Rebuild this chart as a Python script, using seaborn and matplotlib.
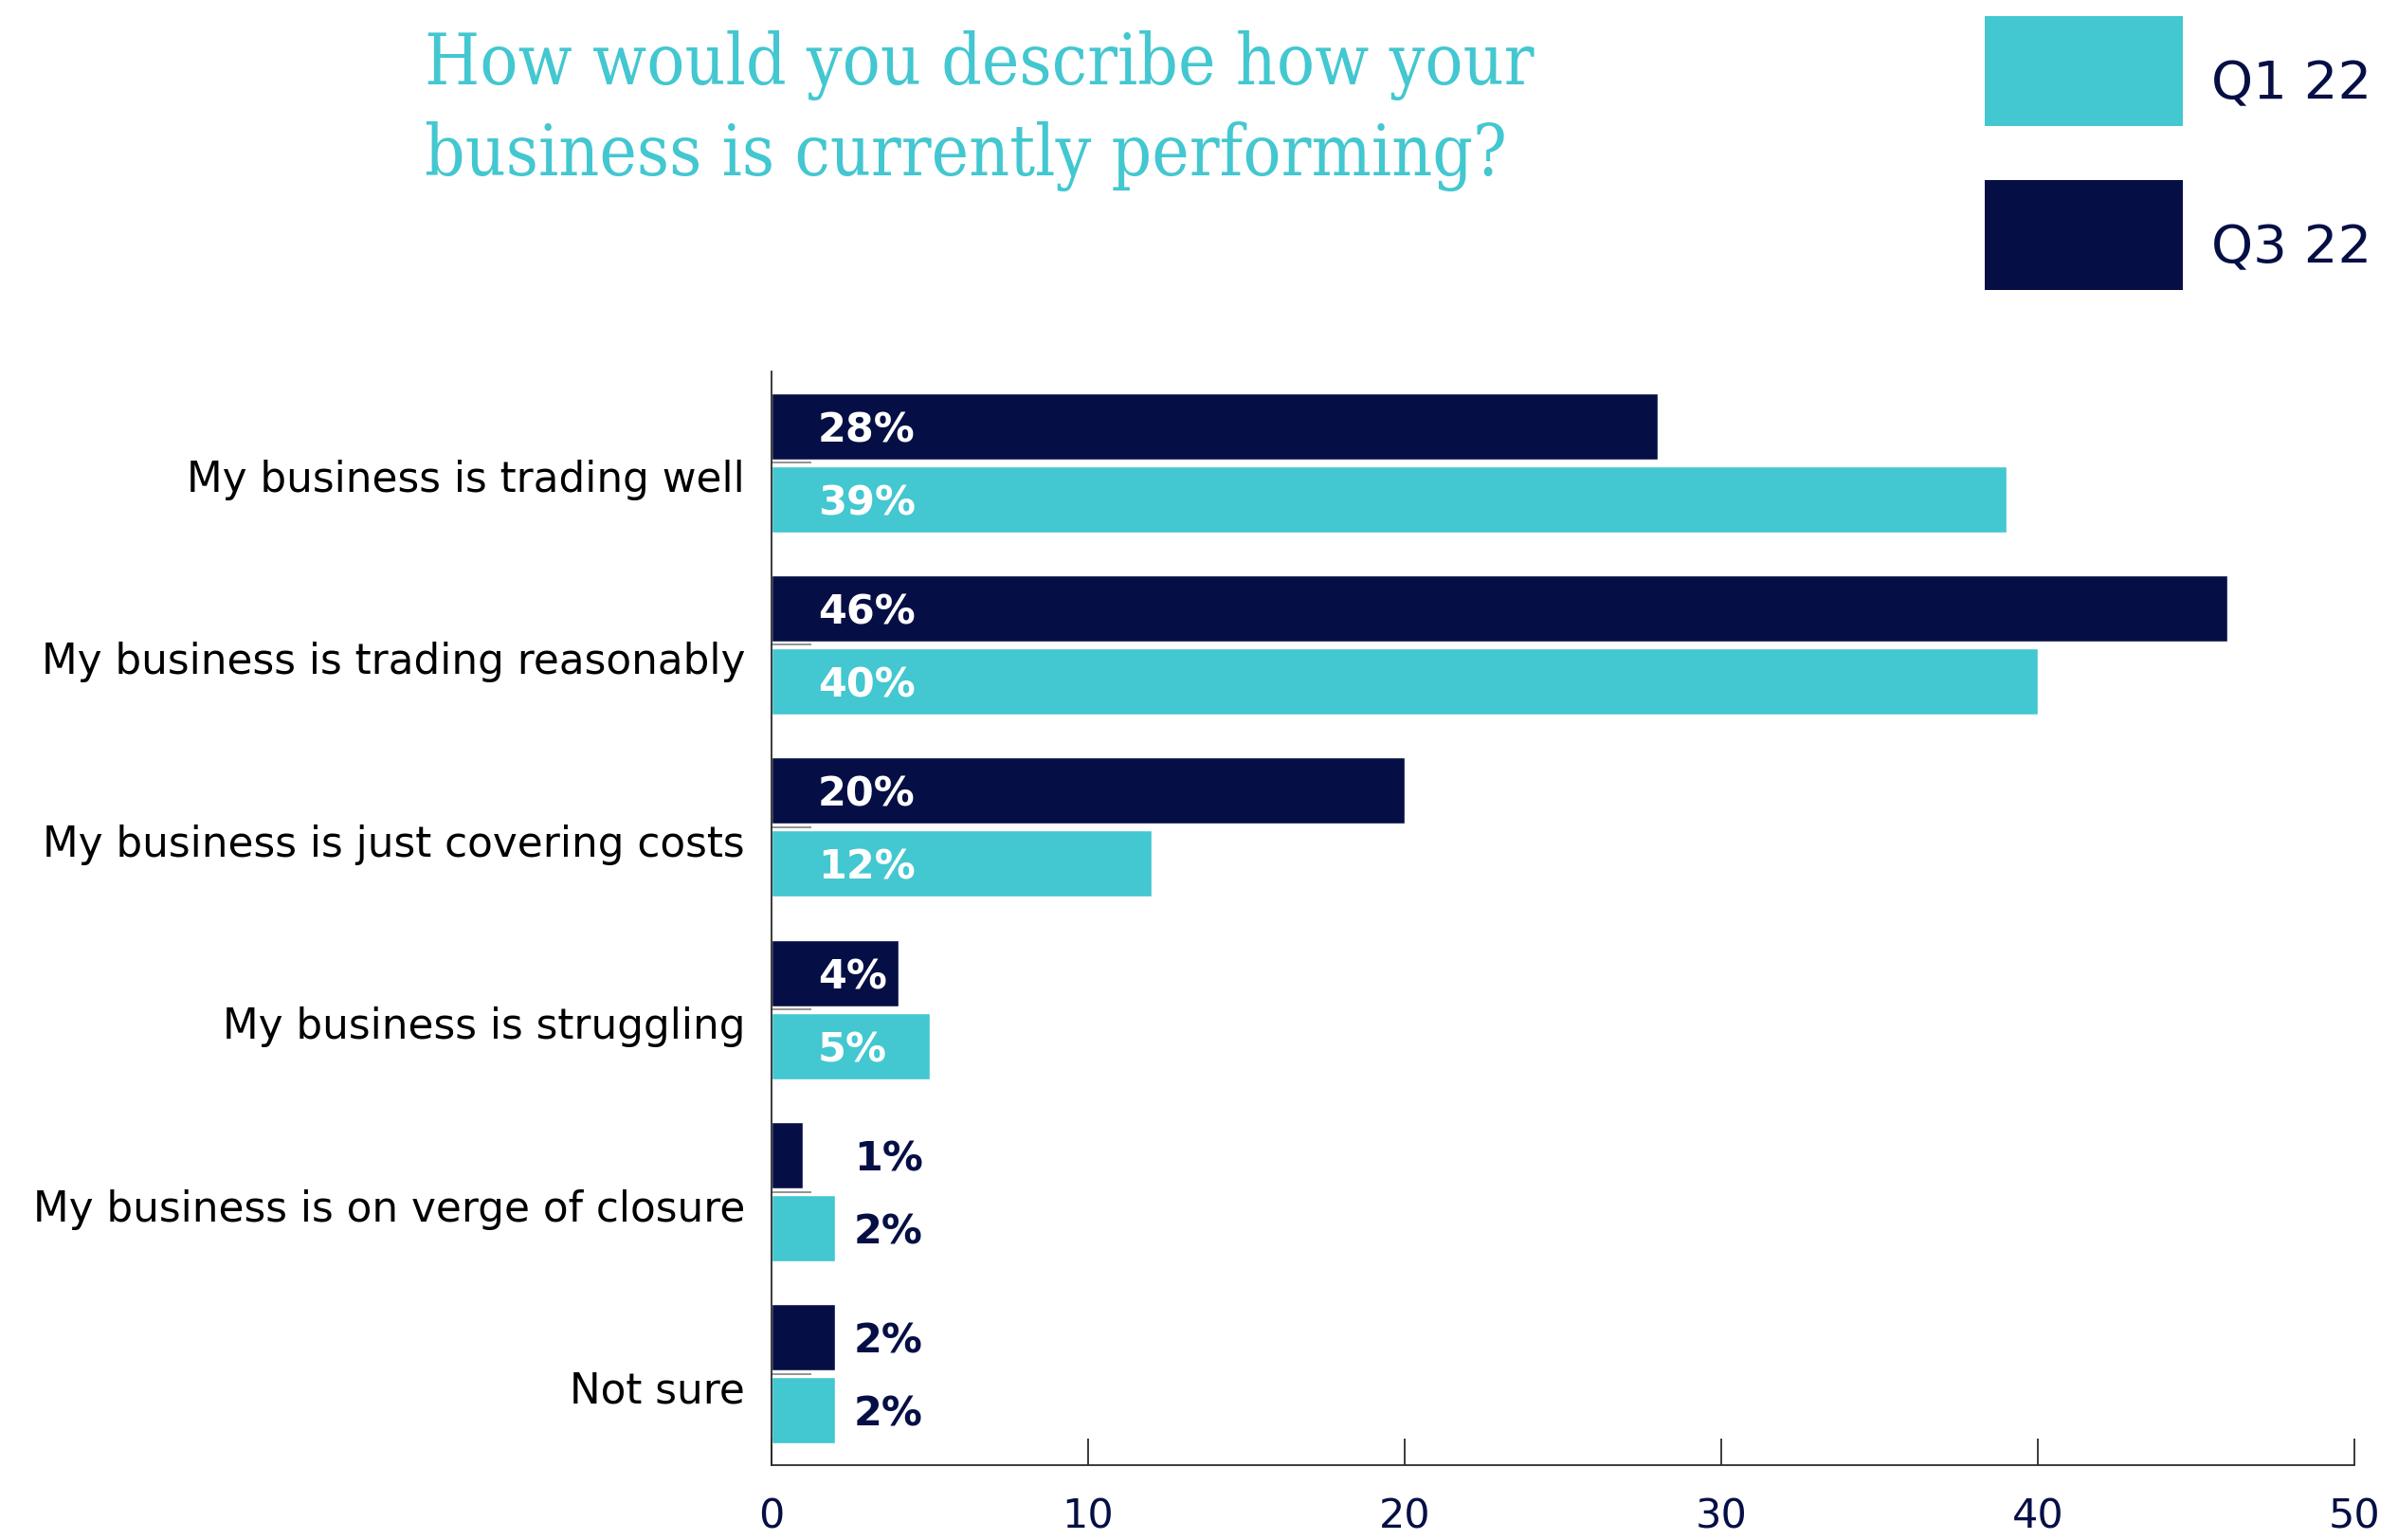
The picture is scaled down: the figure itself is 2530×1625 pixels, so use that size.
import matplotlib
matplotlib.use("Agg")
import matplotlib.pyplot as plt
import matplotlib.transforms as mtransforms
import seaborn as sns
import pandas as pd
from matplotlib.patches import Patch, Rectangle
from matplotlib.legend_handler import HandlerPatch

# Survey answers and shares (%) for the two waves
categories = [
    "My business is trading well",
    "My business is trading reasonably",
    "My business is just covering costs",
    "My business is struggling",
    "My business is on verge of closure",
    "Not sure",
]
q1_22 = [39, 40, 12, 5, 2, 2]
q3_22 = [28, 46, 20, 4, 1, 2]
series_names = ["Q1 22", "Q3 22"]
x_ticks = [0, 10, 20, 30, 40, 50]
title_lines = ["How would you describe how your", "business is currently performing?"]

TEAL = "#43C7D0"
NAVY = "#060F45"
palette = {"Q1 22": TEAL, "Q3 22": NAVY}
values_by_series = {"Q1 22": q1_22, "Q3 22": q3_22}
# Q3 22 sits above Q1 22 within each group
draw_order = ["Q3 22", "Q1 22"]

df = pd.DataFrame({
    "category": categories * len(draw_order),
    "wave": [w for w in draw_order for _ in categories],
    "value": [v for w in draw_order for v in values_by_series[w]],
})

sns.set_theme(style="white")
plt.rcParams["font.family"] = ["DejaVu Sans"]

fig = plt.figure(figsize=(25.3, 16.25), dpi=100)
ax = fig.add_axes([0.3217, 0.0486, 0.6601, 0.7102])

sns.barplot(
    data=df, y="category", x="value", hue="wave",
    order=categories, hue_order=draw_order, palette=palette,
    orient="h", width=0.8, gap=0.09, saturation=1,
    errorbar=None, legend=False, ax=ax,
)

# Value labels: white inside wider bars, navy beside the narrow ones
for wave, container in zip(draw_order, ax.containers):
    for patch, val in zip(container, values_by_series[wave]):
        yc = patch.get_y() + patch.get_height() / 2
        inside = val >= 3
        ax.text(1.47 if inside else 2.6, yc, f"{val}%",
                color="white" if inside else NAVY, fontsize=31,
                fontweight="bold", ha="left", va="center_baseline")

ax.set_xlim(0, 50)
ax.set_ylim(len(categories) - 0.5, -0.5)
ax.set_xticks(x_ticks)
ax.set_xticklabels([str(t) for t in x_ticks])
ax.set_xlabel("")
ax.set_ylabel("")

for side in ("top", "right"):
    ax.spines[side].set_visible(False)
for side in ("left", "bottom"):
    ax.spines[side].set_color("#2b2b2b")
    ax.spines[side].set_linewidth(1.3)

ax.tick_params(axis="x", direction="in", length=20, width=1.3, color="#2b2b2b",
               labelsize=31, labelcolor=NAVY, pad=24, bottom=True)
ax.tick_params(axis="y", direction="in", length=30, width=1.3, color="#8a8a8a",
               labelsize=31.5, labelcolor="black", pad=20, left=True)

# Category names sit slightly below the group centre
shift = mtransforms.ScaledTranslation(0, -14 / 100, fig.dpi_scale_trans)
for lbl in ax.get_yticklabels():
    lbl.set_transform(lbl.get_transform() + shift)

# Title in two lines
for line, base_px in zip(title_lines, (89, 185)):
    fig.text(448 / 2530, 1 - base_px / 1625, line, fontsize=53.5, color=TEAL,
             family="DejaVu Serif", fontstretch="condensed",
             ha="left", va="baseline")

# Legend with large colour boxes
LEG_FS = 40.4
BOX_EM = 2.07


def tall_box(legend, orig_handle, xdescent, ydescent, width, height, fontsize):
    return Rectangle((-xdescent, -ydescent), width, BOX_EM * fontsize)


handles = [Patch(facecolor=palette[s], edgecolor="none") for s in series_names]
fig.legend(handles, series_names, loc="upper left",
           bbox_to_anchor=(2094 / 2530, 1 - 39.8 / 1625), frameon=False,
           fontsize=LEG_FS, labelcolor=NAVY, handlelength=3.725, handleheight=2.18,
           labelspacing=1.422, handletextpad=0.53, borderpad=0, borderaxespad=0,
           handler_map={Patch: HandlerPatch(patch_func=tall_box)})

fig.savefig("out.png", dpi=100)
